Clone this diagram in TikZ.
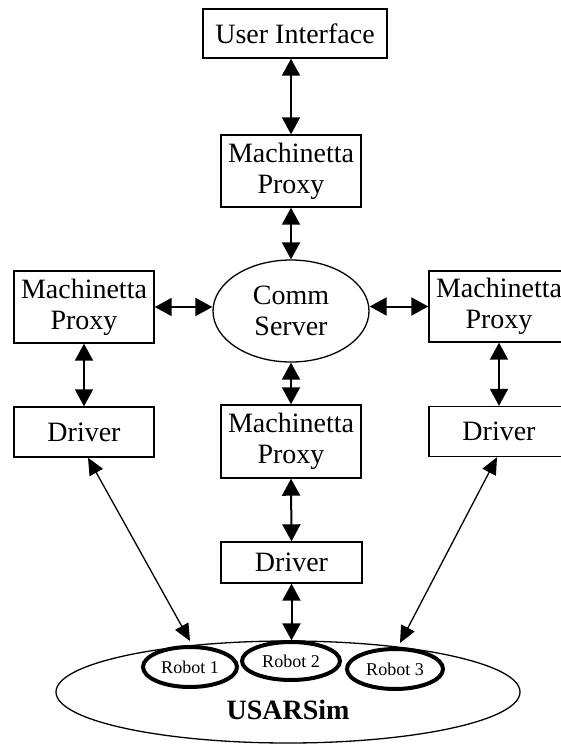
\documentclass[tikz,border=0pt]{standalone}
\usepackage{fontspec}
\setmainfont{Liberation Serif}
\usetikzlibrary{arrows.meta,shapes.geometric}
\begin{document}
\begin{tikzpicture}[x=1pt,y=-1pt,
  box/.style={draw,line width=1.4pt,rectangle,inner sep=0pt,align=center,
    font=\fontsize{28}{31}\selectfont},
  oval/.style={draw,line width=1.3pt,ellipse,inner sep=0pt,align=center,
    font=\fontsize{28}{31}\selectfont},
  robot/.style={draw,line width=4pt,ellipse,inner sep=0pt,fill=white,
    font=\fontsize{18}{20}\selectfont},
  dbl/.style={line width=2pt,{Triangle[length=17pt,width=18pt]}-{Triangle[length=17pt,width=18pt]}},
  thin/.style={line width=1.3pt,{Triangle[length=17pt,width=15pt]}-{Triangle[length=17pt,width=15pt]}}]
\useasboundingbox (0,0) rectangle (561,745);
\fill[white] (0,0) rectangle (561,745);
\clip (0,0) rectangle (561,745);

\node[box,minimum width=184pt,minimum height=49pt] (ui) at (295,33.5) {User Interface};
\node[box,minimum width=140pt,minimum height=72pt] (mp1) at (291,171) {Machinetta\\Proxy};
\node[oval,minimum width=156pt,minimum height=102pt] (comm) at (291,311) {Comm\\Server};
\node[box,minimum width=140pt,minimum height=72pt] (mpL) at (84,307) {Machinetta\\Proxy};
\node[box,minimum width=140pt,minimum height=71pt] (mpR) at (499,306.5) {Machinetta\\Proxy};
\node[box,minimum width=140pt,minimum height=50pt] (drvL) at (84,432) {Driver};
\node[box,minimum width=140pt,minimum height=73pt] (mp2) at (291,441.5) {Machinetta\\Proxy};
\node[box,minimum width=140pt,minimum height=50pt] (drvR) at (499,431.5) {Driver};
\node[box,minimum width=141pt,minimum height=41pt] (drv2) at (291.5,562.5) {Driver};

\node[oval,minimum width=464pt,minimum height=102pt] (usar) at (288,692) {};
\node[font=\fontsize{28}{30}\selectfont\bfseries] (usartxt) at (288,710) {USARSim};
\node[robot,minimum width=94pt,minimum height=40pt] (r1) at (190,667) {Robot 1};
\node[robot,minimum width=98pt,minimum height=38pt] (r2) at (291,661) {Robot 2};
\node[robot,minimum width=96pt,minimum height=40pt] (r3) at (395,669) {Robot 3};

\draw[dbl] (mp1.north |- ui.south) -- (mp1.north);
\draw[dbl] (mp1.south) -- (comm.north);
\draw[dbl] (mpL.east) -- (comm.west |- mpL.east);
\draw[dbl] (comm.east |- mpR.west) -- (mpR.west);
\draw[dbl] (mpL.south) -- (drvL.north);
\draw[dbl] (comm.south) -- (mp2.north);
\draw[dbl] (mpR.south) -- (drvR.north);
\draw[dbl] (mp2.south) -- (drv2.north);
\draw[dbl] (drv2.south) -- (drv2.south |- usar.north);
\draw[thin] ([xshift=4pt]drvL.south) -- ([yshift=4pt]r1.north);
\draw[thin] ([xshift=-2pt]drvR.south) -- ([yshift=4pt,xshift=5pt]r3.north);
\end{tikzpicture}
\end{document}
